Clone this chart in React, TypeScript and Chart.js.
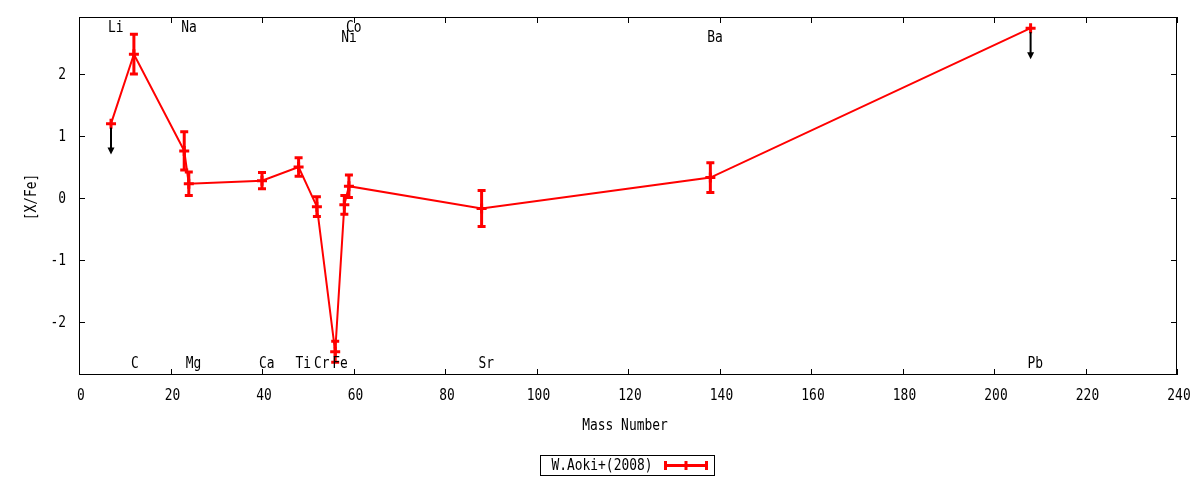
import React, { useEffect, useRef } from "react";
import { Chart, registerables } from "chart.js";

Chart.register(...registerables);

// ---- data ----
const elements = ["Li", "C", "Na", "Mg", "Ca", "Ti", "Cr", "Fe", "Ni", "Co", "Sr", "Ba", "Pb"];
const massNumbers = [7, 12, 23, 24, 40, 48, 52, 56, 58, 59, 88, 138, 208];
const abundances = [1.2, 2.32, 0.76, 0.23, 0.28, 0.5, -0.14, -2.48, -0.11, 0.19, -0.17, 0.33, 2.74];
const errors = [0, 0.32, 0.31, 0.19, 0.13, 0.15, 0.16, 0.17, 0.15, 0.18, 0.29, 0.24, 0];
const upperLimits = [true, false, false, false, false, false, false, false, false, false, false, false, true];
const labelYs = [2.75, -2.66, 2.75, -2.66, -2.66, -2.66, -2.66, -2.66, 2.6, 2.75, -2.66, 2.6, -2.66];
const xTicks = [0, 20, 40, 60, 80, 100, 120, 140, 160, 180, 200, 220, 240];
const yTicks = [-2, -1, 0, 1, 2];
const seriesLabel = "W.Aoki+(2008)";
const xTitle = "Mass Number";
const yTitle = "[X/Fe]";

const RED = "#ff0000";
const FONT = '15px "DejaVu Sans Mono"';
const SX = 0.86;

function drawText(
  ctx: CanvasRenderingContext2D,
  text: string,
  x: number,
  y: number,
  align: CanvasTextAlign,
  rotate = 0
) {
  ctx.save();
  ctx.translate(x, y);
  if (rotate) ctx.rotate(rotate);
  ctx.scale(SX, 1);
  ctx.font = FONT;
  ctx.fillStyle = "#000";
  ctx.textAlign = align;
  ctx.textBaseline = "middle";
  ctx.fillText(text, 0, 0);
  ctx.restore();
}

const gnuplotPlugin = {
  id: "gnuplotDecor",
  afterDatasetsDraw(chart: any) {
    const ctx: CanvasRenderingContext2D = chart.ctx;
    const xs = chart.scales.x;
    const ys = chart.scales.y;

    // error bars
    ctx.save();
    ctx.strokeStyle = RED;
    ctx.lineWidth = 3;
    ctx.lineCap = "butt";
    for (let i = 0; i < massNumbers.length; i++) {
      if (!errors[i]) continue;
      const px = xs.getPixelForValue(massNumbers[i]);
      const top = ys.getPixelForValue(abundances[i] + errors[i]);
      const bot = ys.getPixelForValue(abundances[i] - errors[i]);
      ctx.beginPath();
      ctx.moveTo(px, top);
      ctx.lineTo(px, bot);
      ctx.moveTo(px - 4, top);
      ctx.lineTo(px + 4, top);
      ctx.moveTo(px - 4, bot);
      ctx.lineTo(px + 4, bot);
      ctx.stroke();
    }
    ctx.restore();

    // upper limit arrows
    ctx.save();
    ctx.strokeStyle = "#000";
    ctx.fillStyle = "#000";
    ctx.lineWidth = 2;
    for (let i = 0; i < massNumbers.length; i++) {
      if (!upperLimits[i]) continue;
      const px = xs.getPixelForValue(massNumbers[i]);
      const y0 = ys.getPixelForValue(abundances[i]);
      const y1 = ys.getPixelForValue(abundances[i] - 0.5);
      ctx.beginPath();
      ctx.moveTo(px, y0 + 4);
      ctx.lineTo(px, y1 - 5);
      ctx.stroke();
      ctx.beginPath();
      ctx.moveTo(px - 3.5, y1 - 7);
      ctx.lineTo(px + 3.5, y1 - 7);
      ctx.lineTo(px, y1);
      ctx.closePath();
      ctx.fill();
    }
    ctx.restore();
  },
  afterDraw(chart: any) {
    const ctx: CanvasRenderingContext2D = chart.ctx;
    const xs = chart.scales.x;
    const ys = chart.scales.y;
    const a = chart.chartArea;

    // border
    ctx.save();
    ctx.strokeStyle = "#000";
    ctx.lineWidth = 1;
    ctx.strokeRect(Math.round(a.left) + 0.5, Math.round(a.top) + 0.5, Math.round(a.right - a.left) - 1, Math.round(a.bottom - a.top) - 1);

    // ticks
    ctx.beginPath();
    for (const t of xTicks) {
      const px = Math.round(xs.getPixelForValue(t)) + 0.5;
      ctx.moveTo(px, a.bottom);
      ctx.lineTo(px, a.bottom - 6);
      ctx.moveTo(px, a.top);
      ctx.lineTo(px, a.top + 6);
    }
    for (const t of yTicks) {
      const py = Math.round(ys.getPixelForValue(t)) + 0.5;
      ctx.moveTo(a.left, py);
      ctx.lineTo(a.left + 6, py);
      ctx.moveTo(a.right, py);
      ctx.lineTo(a.right - 6, py);
    }
    ctx.stroke();
    ctx.restore();

    // tick labels
    for (const t of xTicks) {
      drawText(ctx, String(t), xs.getPixelForValue(t) + 2, a.bottom + 21, "center");
    }
    for (const t of yTicks) {
      drawText(ctx, String(t), a.left - 13, ys.getPixelForValue(t) + 1, "right");
    }

    // axis titles
    drawText(ctx, xTitle, (a.left + a.right) / 2 - 3, a.bottom + 51, "center");
    drawText(ctx, yTitle, 32, (a.top + a.bottom) / 2 + 1, "center", -Math.PI / 2);

    // element labels
    for (let i = 0; i < elements.length; i++) {
      drawText(ctx, elements[i], xs.getPixelForValue(massNumbers[i]) - 3, ys.getPixelForValue(labelYs[i]) + 1, "left");
    }

    // legend
    const lx = 540.5;
    const ly = 455.5;
    ctx.save();
    ctx.strokeStyle = "#000";
    ctx.lineWidth = 1;
    ctx.strokeRect(lx, ly, 174, 20);
    ctx.restore();
    drawText(ctx, seriesLabel, 551.5, 466, "left");
    ctx.save();
    ctx.strokeStyle = RED;
    ctx.lineWidth = 3;
    ctx.beginPath();
    ctx.moveTo(664, 465.5);
    ctx.lineTo(708, 465.5);
    ctx.moveTo(665.5, 461);
    ctx.lineTo(665.5, 470);
    ctx.moveTo(706.5, 461);
    ctx.lineTo(706.5, 470);
    ctx.moveTo(686, 461);
    ctx.lineTo(686, 470);
    ctx.stroke();
    ctx.restore();
  },
};

export default function App() {
  const canvasRef = useRef<HTMLCanvasElement | null>(null);

  useEffect(() => {
    if (!canvasRef.current) return;
    const points = massNumbers.map((m, i) => ({ x: m, y: abundances[i] }));
    const chart = new Chart(canvasRef.current, {
      type: "line",
      data: {
        datasets: [
          {
            label: seriesLabel,
            data: points,
            borderColor: RED,
            backgroundColor: RED,
            borderWidth: 2,
            pointStyle: "cross",
            pointRadius: 5,
            pointBorderWidth: 3,
            pointBorderColor: RED,
            pointHoverRadius: 5,
            tension: 0,
            fill: false,
          },
        ],
      },
      options: {
        animation: false,
        responsive: false,
        devicePixelRatio: 1,
        layout: { padding: { top: 17, right: 23, left: 0, bottom: 0 } },
        plugins: {
          legend: { display: false },
          tooltip: { enabled: false },
        },
        scales: {
          x: {
            type: "linear",
            min: 0,
            max: 240,
            ticks: { display: false },
            grid: { display: false },
            border: { display: false },
            afterFit: (s: any) => {
              s.height = 105;
            },
          },
          y: {
            type: "linear",
            min: -2.855,
            max: 2.92,
            ticks: { display: false },
            grid: { display: false },
            border: { display: false },
            afterFit: (s: any) => {
              s.width = 79;
            },
          },
        },
      },
      plugins: [gnuplotPlugin],
    });
    return () => chart.destroy();
  }, []);

  return (
    <div style={{ position: "absolute", left: 0, top: 0, width: 1200, height: 480, background: "#fff" }}>
      <canvas ref={canvasRef} width={1200} height={480} style={{ display: "block" }} />
    </div>
  );
}
